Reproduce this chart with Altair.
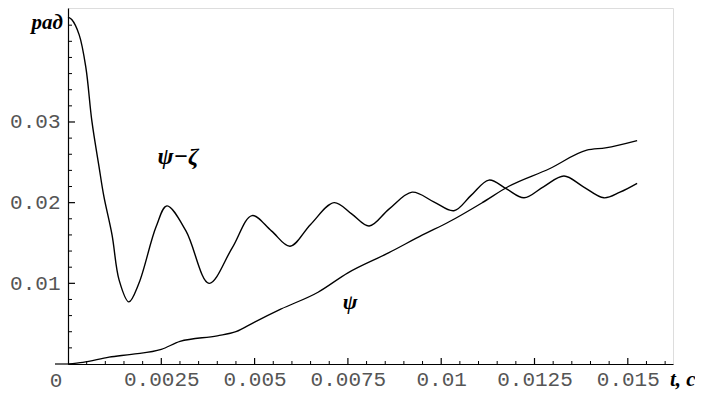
import altair as alt
import pandas as pd

# psi - zeta curve (t in s, value in rad)
a_t = [0, 0.0001, 0.0003, 0.00048, 0.00064, 0.00083, 0.00096, 0.00118, 0.00137, 0.00163,
       0.0019, 0.00236, 0.00265, 0.00316, 0.00378, 0.0044, 0.00493, 0.00545, 0.00595,
       0.0065, 0.00713, 0.0076, 0.00807, 0.0086, 0.00922, 0.0098, 0.01034, 0.0108,
       0.01128, 0.01175, 0.01222, 0.01275, 0.01329, 0.0138, 0.01436, 0.01479, 0.01525]
a_v = [0.0430, 0.0427, 0.0408, 0.0367, 0.0301, 0.0245, 0.0208, 0.0160, 0.0104, 0.0077,
       0.0100, 0.0170, 0.0196, 0.0165, 0.0100, 0.0144, 0.0184, 0.0165, 0.0146,
       0.0173, 0.0200, 0.0186, 0.0171, 0.0192, 0.0213, 0.0201, 0.0190, 0.0209,
       0.0228, 0.0217, 0.0206, 0.0220, 0.0233, 0.0220, 0.0206, 0.0213, 0.0224]

# psi curve
b_t = [0, 0.0004, 0.0011, 0.0017, 0.0025, 0.003, 0.004, 0.0045, 0.005, 0.0057, 0.0067,
       0.0075, 0.0086, 0.0095, 0.0102, 0.0111, 0.0118, 0.0129, 0.0139, 0.0144, 0.01525]
b_v = [0, 0.0002, 0.00085, 0.0012, 0.0018, 0.0028, 0.0035, 0.0040, 0.0052, 0.0068, 0.0089,
       0.0113, 0.0138, 0.0160, 0.0176, 0.0200, 0.0220, 0.0242, 0.0265, 0.0268, 0.0277]

x_labels = [0.0025, 0.005, 0.0075, 0.01, 0.0125, 0.015]
y_labels = [0.01, 0.02, 0.03]
x_minor = [0.0005, 0.001, 0.0015, 0.002, 0.003, 0.0035, 0.004, 0.0045, 0.0055, 0.006,
           0.0065, 0.007, 0.008, 0.0085, 0.009, 0.0095, 0.0105, 0.011, 0.0115, 0.012,
           0.013, 0.0135, 0.014, 0.0145, 0.0155, 0.016]
y_minor = [0.002, 0.004, 0.006, 0.008, 0.012, 0.014, 0.016, 0.018, 0.022, 0.024, 0.026,
           0.028, 0.032, 0.034, 0.036, 0.038, 0.040, 0.042]

curve_labels = ["ψ−ζ", "ψ"]
curve_label_t = [0.00295, 0.00756]
curve_label_v = [0.0257, 0.0077]
curve_label_size = [24, 22]

W, H = 605, 356
XMAX = 0.016211
YMAX = 0.04413

xs = alt.Scale(domain=[0, XMAX], nice=False, zero=False)
ys = alt.Scale(domain=[0, YMAX], nice=False, zero=False)

df_a = pd.DataFrame({"t": a_t, "v": a_v})
df_b = pd.DataFrame({"t": b_t, "v": b_v})

xaxis = alt.Axis(values=x_labels, labelExpr="'' + datum.value", ticks=False, tickSize=0,
                 grid=False, domainColor="black", domainWidth=1.2,
                 labelFont="Liberation Mono", labelFontSize=21, labelColor="#555",
                 labelPadding=4, title=None, labelFlush=False)
yaxis = alt.Axis(values=y_labels, labelExpr="'' + datum.value", ticks=False, tickSize=0,
                 grid=False, domainColor="black", domainWidth=1.2,
                 labelFont="Liberation Mono", labelFontSize=21, labelColor="#555",
                 labelPadding=8, title=None, labelFlush=False)

line_a = alt.Chart(df_a).mark_line(color="black", strokeWidth=1.4, interpolate="catmull-rom").encode(
    x=alt.X("t:Q", scale=xs, axis=xaxis),
    y=alt.Y("v:Q", scale=ys, axis=yaxis),
)
line_b = alt.Chart(df_b).mark_line(color="black", strokeWidth=1.3, interpolate="monotone").encode(
    x=alt.X("t:Q", scale=xs),
    y=alt.Y("v:Q", scale=ys),
)

xmin_df = pd.DataFrame({"t": x_minor})
xmaj_df = pd.DataFrame({"t": x_labels})
ymin_df = pd.DataFrame({"v": y_minor})
ymaj_df = pd.DataFrame({"v": y_labels})

xt_minor = alt.Chart(xmin_df).mark_rule(color="black", strokeWidth=1).encode(
    x=alt.X("t:Q", scale=xs), y=alt.value(H), y2=alt.value(H - 3))
xt_major = alt.Chart(xmaj_df).mark_rule(color="black", strokeWidth=1.2).encode(
    x=alt.X("t:Q", scale=xs), y=alt.value(H), y2=alt.value(H - 6))
yt_minor = alt.Chart(ymin_df).mark_rule(color="black", strokeWidth=1).encode(
    y=alt.Y("v:Q", scale=ys), x=alt.value(0), x2=alt.value(4))
yt_major = alt.Chart(ymaj_df).mark_rule(color="black", strokeWidth=1.2).encode(
    y=alt.Y("v:Q", scale=ys), x=alt.value(0), x2=alt.value(7))

ext = alt.Chart(pd.DataFrame({"k": [0]})).mark_rule(color="black", strokeWidth=1.2).encode(
    x=alt.value(-13), x2=alt.value(0), y=alt.value(H))

lab_df = pd.DataFrame({"label": curve_labels, "t": curve_label_t, "v": curve_label_v,
                       "size": curve_label_size})
labels = alt.Chart(lab_df).mark_text(font="Liberation Serif", fontWeight="bold",
                                     fontStyle="italic", color="black").encode(
    x=alt.X("t:Q", scale=xs), y=alt.Y("v:Q", scale=ys), text="label:N",
    size=alt.Size("size:Q", scale=None, legend=None))

zero_lbl = alt.Chart(pd.DataFrame({"text": ["0"]})).mark_text(
    font="Liberation Mono", fontSize=21, color="#555", align="center", baseline="middle").encode(
    x=alt.value(-12), y=alt.value(H + 17), text="text:N")

rad = alt.Chart(pd.DataFrame({"text": ["рад"]})).mark_text(
    font="Liberation Serif", fontSize=21, fontWeight="bold", fontStyle="italic",
    color="black", align="right", baseline="middle").encode(
    x=alt.value(-5), y=alt.value(15), text="text:N")

tc = alt.Chart(pd.DataFrame({"text": ["t, c"]})).mark_text(
    font="Liberation Serif", fontSize=21, fontWeight="bold", fontStyle="italic",
    color="black", align="left", baseline="middle").encode(
    x=alt.value(W - 3), y=alt.value(H + 16), text="text:N")

chart = alt.layer(line_a, line_b, xt_minor, xt_major, yt_minor, yt_major, ext, labels,
                  zero_lbl, rad, tc).properties(
    width=W, height=H,
    autosize=alt.AutoSizeParams(type="none"),
    padding={"left": 60, "top": 0, "right": 22, "bottom": 28},
).configure_view(stroke=None).configure(background="white")

chart.save("out.html", embed_options={"renderer": "svg", "actions": False})
